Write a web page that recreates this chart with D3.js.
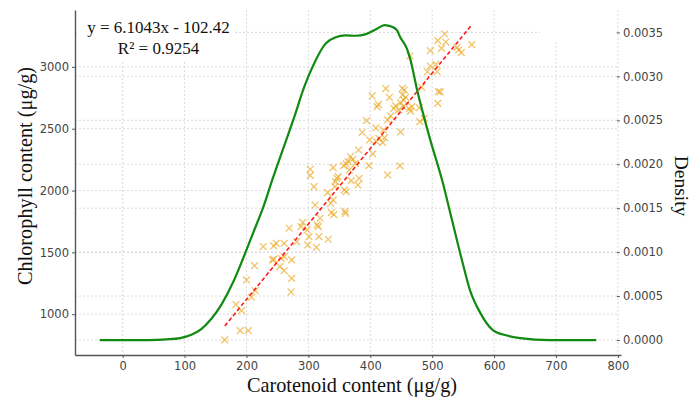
<!DOCTYPE html>
<html lang="en">
<head>
<meta charset="UTF-8">
<title>Carotenoid vs Chlorophyll</title>
<style>
  body { margin: 0; background: #fff; }
  svg { display: block; }
</style>
</head>
<body>
<svg id="svg" width="691" height="399"></svg>
<script src="https://cdn.jsdelivr.net/npm/d3@7"></script>
<script>
// scatter points
const carotenoid = [165,190,203,183,192,200,208,214,213,227,244,248,261,242,244,256,261,273,254,261,
  273,272,269,281,288,291,298,301,299,313,317,314,316,319,311,332,303,303,309,331,
  336,340,337,341,360,359,343,346,344,348,358,361,340,357,361,364,368,372,376,366,
  369,380,382,381,398,404,399,410,414,420,423,421,409,394,387,428,448,449,428,433,
  438,441,446,449,453,411,413,403,425,431,452,455,452,457,454,463,465,467,479,480,
  487,483,464,497,492,497,506,508,510,513,509,509,520,522,515,540,543,547,564];
const chlorophyll = [792,867,867,1078,1029,1277,1137,1191,1393,1547,1552,1573,1573,1439,1444,1452,1466,1439,1385,1353,
  1290,1180,1695,1587,1708,1743,1681,1627,1560,1541,1627,1722,1708,1776,1883,1606,2172,2123,2032,1983,
  1897,1924,1821,1805,1816,1832,2032,2099,2072,2112,2005,1991,2185,2201,2215,2234,2274,2253,2220,2166,
  2080,2045,2099,2328,2201,2296,2409,2395,2422,2387,2428,2490,2506,2565,2471,2126,2199,2474,2571,2603,
  2665,2684,2651,2711,2678,2678,2697,2765,2824,2754,2827,2813,2773,2754,2732,2662,2643,2678,2670,2557,
  2584,2835,3088,3131,2961,3007,3021,2961,2800,2797,2705,3212,3266,3201,3150,3158,3137,3115,3180];

// density curve of carotenoid (right axis)
const densX = [-37,43,71,93,110,127,143,160,177,193,210,227,243,260,277,293,310,327,343,360,377,393,
  410,423,435,443,448,459,465,475,486,497,516,532,548,561,577,598,621,642,690,765];
const densY = [0,0,0.0000076,0.0000227,0.0000569,0.000125,0.000239,0.000409,0.000637,0.000902,0.001206,
  0.001509,0.00185,0.002192,0.002533,0.002874,0.003158,0.003367,0.003443,0.003466,0.003462,0.003481,
  0.003538,0.003583,0.003564,0.003526,0.00345,0.003318,0.003185,0.002866,0.002559,0.002275,0.00182,
  0.001365,0.00091,0.000569,0.000318,0.000114,0.0000512,0.0000227,0,0];

const slope = 6.1043, intercept = -102.42, r2 = 0.9254;

const xTicks = [0,100,200,300,400,500,600,700,800];
const yTicks = [1000,1500,2000,2500,3000];
const dTicks = [0,0.0005,0.001,0.0015,0.002,0.0025,0.003,0.0035];

const plotL = 75, plotR = 621, plotT = 10, plotB = 355;

const svg = d3.select("#svg");
const x = d3.scaleLinear().domain([-77, 805]).range([plotL, plotR]);
const y = d3.scaleLinear().domain([670, 3460]).range([plotB, plotT]);
const yd = d3.scaleLinear().domain([-0.00017, 0.003755]).range([plotB, plotT]);

// grid
const grid = svg.append("g")
  .attr("stroke", "#d2d2d2")
  .attr("stroke-width", 0.8)
  .attr("stroke-dasharray", "2,2");
grid.selectAll(".gx").data(xTicks).join("line")
  .attr("x1", d => x(d)).attr("x2", d => x(d))
  .attr("y1", plotT).attr("y2", plotB);
grid.selectAll(".gy").data(yTicks).join("line")
  .attr("x1", plotL).attr("x2", x(800))
  .attr("y1", d => y(d)).attr("y2", d => y(d));
grid.selectAll(".gd").data(dTicks).join("line")
  .attr("x1", plotL).attr("x2", x(800))
  .attr("y1", d => yd(d)).attr("y2", d => yd(d));

// empty legend area top-right hides the grid there
svg.append("rect")
  .attr("x", 540).attr("y", plotT).attr("width", 76).attr("height", 32)
  .attr("fill", "#fff");

// scatter
const pts = carotenoid.map((c, i) => [c, chlorophyll[i]]);
const s = 3.4;
svg.append("g")
  .attr("stroke", "#e9a417")
  .attr("stroke-opacity", 0.65)
  .attr("stroke-width", 1.3)
  .selectAll("path").data(pts).join("path")
  .attr("d", d => {
    const px = x(d[0]), py = y(d[1]);
    return `M${px - s},${py - s}L${px + s},${py + s}M${px - s},${py + s}L${px + s},${py - s}`;
  });

// regression line
const xr = d3.extent(carotenoid);
svg.append("path")
  .datum(xr)
  .attr("fill", "none")
  .attr("stroke", "#ff1a1a")
  .attr("stroke-width", 1.6)
  .attr("stroke-dasharray", "4,2.5")
  .attr("d", d3.line().x(d => x(d)).y(d => y(slope * d + intercept)));

// density
const dens = densX.map((v, i) => [v, densY[i]]);
svg.append("path")
  .datum(dens)
  .attr("fill", "none")
  .attr("stroke", "#108a10")
  .attr("stroke-width", 2.2)
  .attr("d", d3.line().x(d => x(d[0])).y(d => yd(d[1])).curve(d3.curveMonotoneX));

// axes
const tickFont = g => g.selectAll("text")
  .attr("font-family", "'DejaVu Sans', sans-serif")
  .attr("font-size", 11.5)
  .attr("fill", "#444");

const gx = svg.append("g").attr("transform", `translate(0,${plotB})`)
  .call(d3.axisBottom(x).tickValues(xTicks).tickSize(3).tickPadding(4).tickSizeOuter(0));
gx.call(tickFont);
gx.select(".domain").attr("stroke", "#555").attr("stroke-width", 1.4);
gx.selectAll(".tick line").attr("stroke", "#555");

const gy = svg.append("g").attr("transform", `translate(${plotL},0)`)
  .call(d3.axisLeft(y).tickValues(yTicks).tickFormat(d3.format("d")).tickSize(3).tickPadding(3).tickSizeOuter(0));
gy.call(tickFont);
gy.select(".domain").attr("stroke", "#555").attr("stroke-width", 1.4);
gy.selectAll(".tick line").attr("stroke", "#555");

const gd = svg.append("g").attr("transform", `translate(${x(800) - 1},0)`)
  .call(d3.axisRight(yd).tickValues(dTicks).tickFormat(d3.format(".4f")).tickSize(3).tickPadding(3));
gd.call(tickFont);
gd.select(".domain").remove();
gd.selectAll(".tick line").attr("stroke", "#555");

// equation box
svg.append("rect")
  .attr("x", plotL + 2).attr("y", plotT).attr("width", 156).attr("height", 52)
  .attr("fill", "#fff");
const eq = svg.append("text")
  .attr("font-family", "'Liberation Serif', 'Times New Roman', serif")
  .attr("font-size", 17)
  .attr("fill", "#111")
  .attr("text-anchor", "middle");
eq.append("tspan").attr("x", 158.5).attr("y", 33)
  .text(`y = ${slope}x - ${Math.abs(intercept)}`);
eq.append("tspan").attr("x", 158.5).attr("y", 54)
  .text(`R² = ${r2}`);

// titles
const serif = "'Liberation Serif', 'Times New Roman', serif";
svg.append("text")
  .attr("x", 352).attr("y", 392)
  .attr("text-anchor", "middle")
  .attr("font-family", serif).attr("font-size", 20.3).attr("fill", "#111")
  .text("Carotenoid content (μg/g)");
svg.append("text")
  .attr("transform", "translate(32,176) rotate(-90)")
  .attr("text-anchor", "middle")
  .attr("font-family", serif).attr("font-size", 20.3).attr("fill", "#111")
  .text("Chlorophyll content (μg/g)");
svg.append("text")
  .attr("transform", "translate(675,186) rotate(90)")
  .attr("text-anchor", "middle")
  .attr("font-family", serif).attr("font-size", 19.5).attr("fill", "#111")
  .text("Density");
</script>
</body>
</html>
